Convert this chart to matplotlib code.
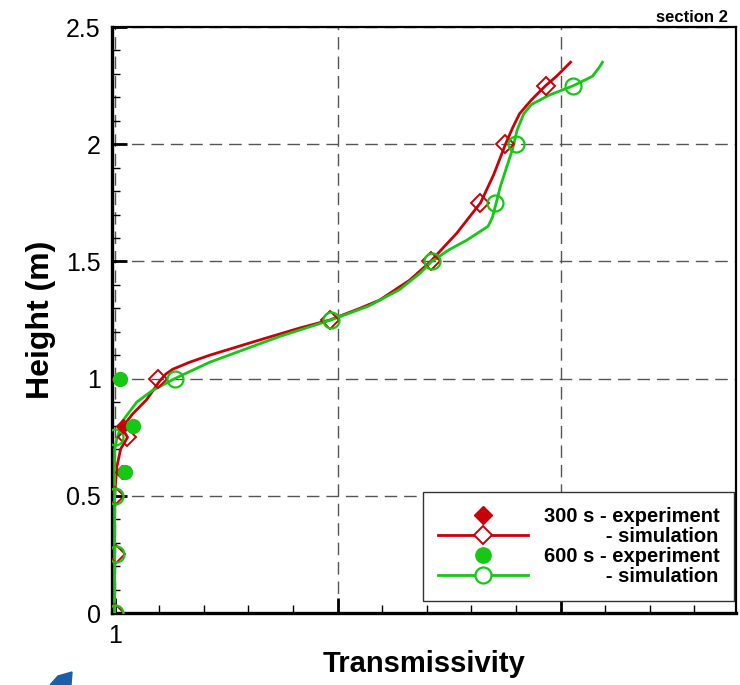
import matplotlib
matplotlib.use('Agg')
import matplotlib.pyplot as plt
from matplotlib.lines import Line2D
from matplotlib.patches import Polygon
from matplotlib.ticker import MultipleLocator

plt.rcParams['font.family'] = ['Liberation Sans', 'DejaVu Sans']

RED = '#c8000a'
GREEN = '#14c814'

# simulation curves (height in m, transmissivity on the axis scale)
sim300_h = [0.0, 0.5, 0.62, 0.70, 0.75, 0.79, 0.85, 0.91, 0.96, 0.99, 1.02, 1.04, 1.07, 1.10,
            1.165, 1.216, 1.25, 1.30, 1.335, 1.42, 1.5, 1.56, 1.62, 1.75, 1.87, 2.0, 2.07,
            2.13, 2.19, 2.25, 2.29, 2.35]
sim300_t = [1.0, 1.0, 1.009, 1.027, 1.058, 1.032, 1.081, 1.143, 1.180, 1.202, 1.230, 1.260,
            1.336, 1.426, 1.650, 1.830, 1.964, 2.100, 2.188, 2.323, 2.417, 2.475, 2.534,
            2.641, 2.700, 2.753, 2.785, 2.816, 2.870, 2.933, 2.982, 3.045]
sim600_h = [0.0, 0.5, 0.7, 0.74, 0.82, 0.90, 0.95, 1.0, 1.03, 1.07, 1.18, 1.25,
            1.31, 1.38, 1.45, 1.5, 1.55, 1.59, 1.65, 1.69, 1.73, 1.82, 1.98, 2.06, 2.13,
            2.17, 2.21, 2.25, 2.29, 2.33, 2.35]
sim600_t = [1.0, 1.0, 1.0, 1.009, 1.036, 1.099, 1.170, 1.269, 1.336, 1.426, 1.740, 1.969,
            2.140, 2.278, 2.370, 2.422, 2.500, 2.578, 2.675, 2.695, 2.706, 2.730, 2.785,
            2.805, 2.835, 2.870, 2.950, 3.058, 3.143, 3.175, 3.188]

# simulation markers every 0.25 m
mark_h = [0.0, 0.25, 0.5, 0.75, 1.0, 1.25, 1.5, 1.75, 2.0, 2.25]
mark300_t = [1.0, 1.005, 1.0, 1.054, 1.193, 1.964, 2.417, 2.637, 2.753, 2.933]
mark600_t = [1.0, 1.005, 1.0, 1.0, 1.269, 1.969, 2.422, 2.704, 2.798, 3.058]

# experiments
exp_h = [0.6, 0.8, 1.0]
exp300_t = [1.031, 1.036, 1.018]
exp600_t = [1.045, 1.081, 1.022]

yticks = [0, 0.5, 1, 1.5, 2, 2.5]
ytick_labels = ['0', '0.5', '1', '1.5', '2', '2.5']
xticks = [1, 2, 3]
xtick_labels = ['1', '', '']

fig = plt.figure(figsize=(7.4, 6.85), dpi=100)
ax = fig.add_axes([0.151, 0.105, 0.843, 0.8555])

ax.plot(sim300_t, sim300_h, color=RED, lw=2, zorder=3)
ax.plot(sim600_t, sim600_h, color=GREEN, lw=2, zorder=3)
ax.plot(mark300_t, mark_h, ls='none', marker='D', ms=9.5, mfc='none', mec=RED, mew=1.4, zorder=4)
ax.plot(mark600_t, mark_h, ls='none', marker='o', ms=11.5, mfc='none', mec=GREEN, mew=1.6, zorder=4)
ax.plot(exp300_t, exp_h, ls='none', marker='D', ms=7, color=RED, zorder=5)
ax.plot(exp600_t, exp_h, ls='none', marker='o', ms=10, color=GREEN, zorder=6)

ax.set_xlim(0.987, 3.785)
ax.set_ylim(0, 2.5)
ax.set_xticks(xticks)
ax.set_xticklabels(xtick_labels)
ax.set_yticks(yticks)
ax.set_yticklabels(ytick_labels)
ax.xaxis.set_minor_locator(MultipleLocator(0.2))
ax.yaxis.set_minor_locator(MultipleLocator(0.1))
ax.tick_params(which='major', direction='in', length=11, width=2, labelsize=18, pad=8)
ax.tick_params(which='minor', direction='in', length=6, width=1)
ax.tick_params(top=False, right=False)

ax.grid(True, which='major', color='#555555', lw=1, ls=(0, (9, 5)))

ax.spines['left'].set_linewidth(2.4)
ax.spines['bottom'].set_linewidth(2.4)
ax.spines['top'].set_linewidth(1.6)
ax.spines['right'].set_linewidth(1.6)

ax.set_ylabel('Height (m)', fontsize=23, fontweight='bold')
ax.yaxis.set_label_coords(-0.09, 0.5)
ax.set_xlabel('Transmissivity', fontsize=21, fontweight='bold', va='top')
ax.xaxis.set_label_coords(0.5, -0.063)

handles = [
    Line2D([], [], ls='none', marker='D', ms=9, color=RED),
    Line2D([], [], color=RED, lw=2, marker='D', ms=9.5, mfc='white', mec=RED, mew=1.4),
    Line2D([], [], ls='none', marker='o', ms=11, color=GREEN),
    Line2D([], [], color=GREEN, lw=2, marker='o', ms=11.5, mfc='white', mec=GREEN, mew=1.6),
]
labels = ['300 s - experiment', '           - simulation',
          '600 s - experiment', '           - simulation']
leg = ax.legend(handles, labels, loc='lower right', bbox_to_anchor=(0.998, 0.02),
                borderaxespad=0, fancybox=False, framealpha=1, edgecolor='#333333',
                prop={'size': 14.5, 'weight': 'bold'}, handlelength=4.5, handletextpad=0.75,
                labelspacing=0.05, borderpad=0.75)
leg.get_frame().set_linewidth(1)

fig.text(0.984, 0.968, 'section 2', ha='right', va='baseline', fontsize=12, fontweight='bold')

fig.patches.append(Polygon([[50 / 740, 0], [58 / 740, 9 / 685], [72 / 740, 13 / 685], [71 / 740, 0]],
                           closed=True, transform=fig.transFigure, color='#1d5ea8'))

fig.savefig('out.png', dpi=100)
